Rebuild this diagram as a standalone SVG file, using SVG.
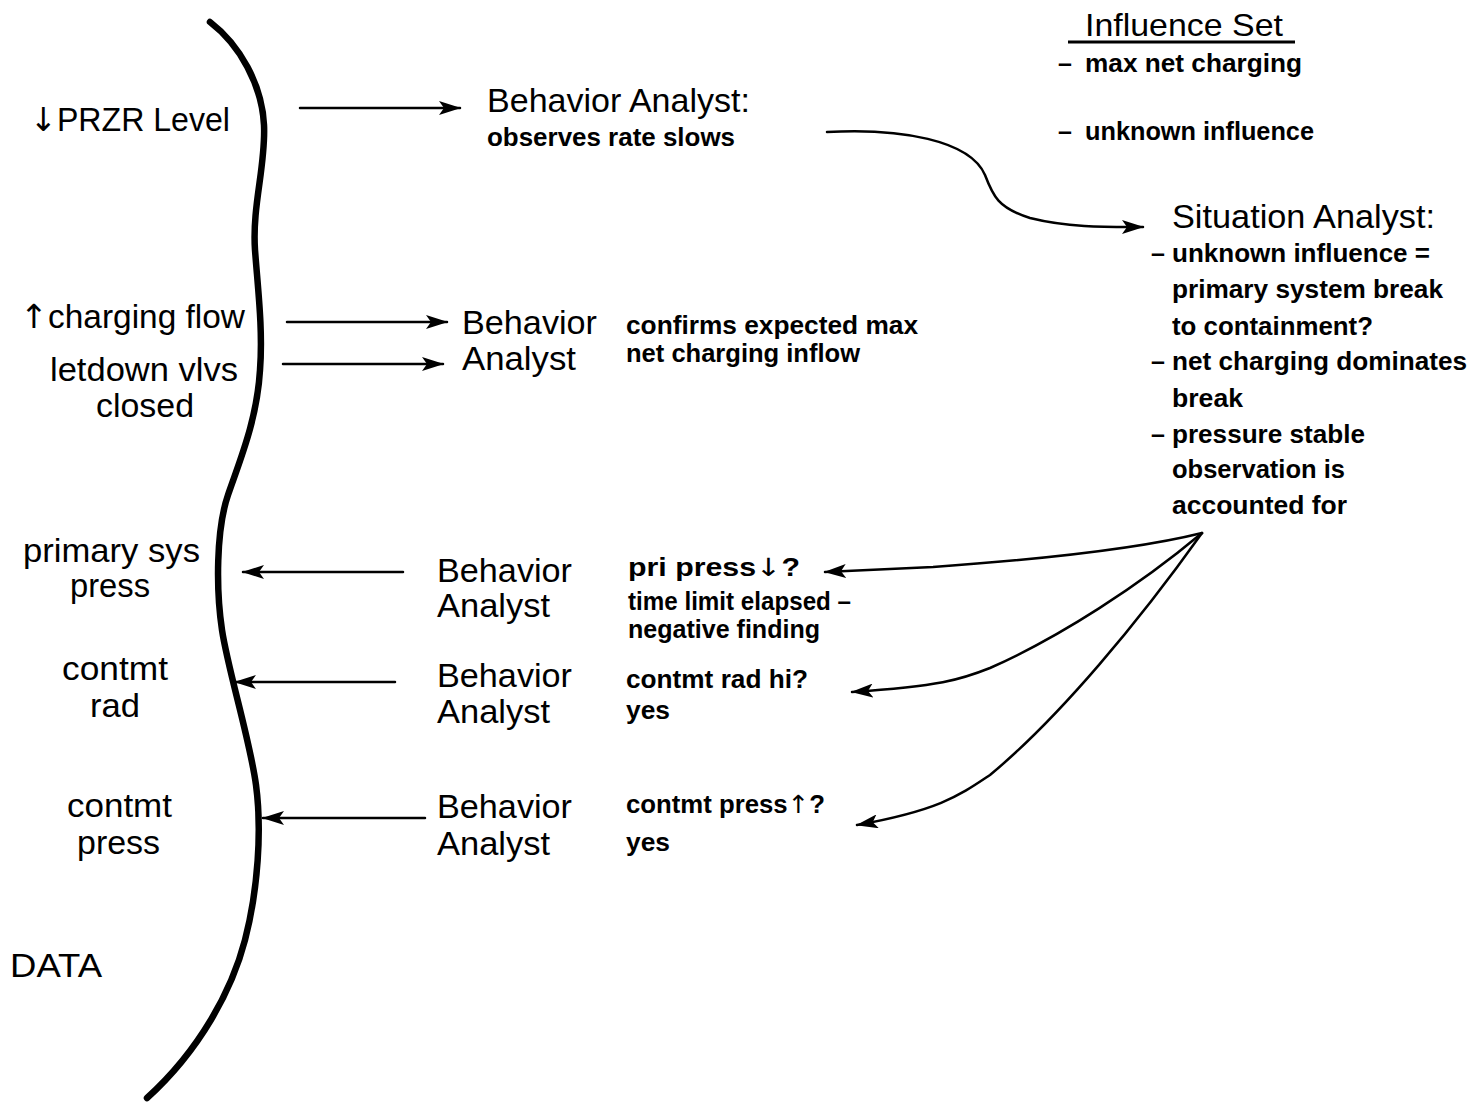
<svg xmlns="http://www.w3.org/2000/svg" width="1474" height="1103" viewBox="0 0 1474 1103">
<style>
text{font-family:"Liberation Sans",Arial,Helvetica,sans-serif;fill:#000}
.big{font-size:33px}
.mid{font-size:32px}
.small{font-size:25px;font-weight:bold}
.arw{font-family:"DejaVu Sans",sans-serif;font-weight:normal}
.ln{fill:none;stroke:#000;stroke-width:2.5;stroke-linecap:round;stroke-linejoin:round}
.data{fill:none;stroke:#000;stroke-width:6.5;stroke-linecap:round;stroke-linejoin:round}
</style>
<defs>
<marker id="ah" viewBox="0 0 22 14" refX="21" refY="7" markerWidth="22" markerHeight="14" markerUnits="userSpaceOnUse" orient="auto">
<path d="M0,0 L22,7 L0,14 L5,7 z" fill="#000"/>
</marker>
</defs>
<rect width="1474" height="1103" fill="#fff"/>

<g id="data-boundary">
<path class="data" d="M210,22 C240,45 262,85 264,125 C266,165 252,205 255,250 C258,290 263,330 260,370 C257,420 240,460 228,495 C216,530 216,590 222,630 C228,670 250,740 256,785 C262,830 258,890 245,940 C232,990 200,1050 147,1098"/>
</g>

<g id="n-przr"><text class="big" x="30" y="131" textLength="200" lengthAdjust="spacingAndGlyphs"><tspan class="arw">↓</tspan>PRZR Level</text></g>
<g id="n-charging"><text class="big" x="20" y="328" textLength="225" lengthAdjust="spacingAndGlyphs"><tspan class="arw">↑</tspan>charging flow</text></g>
<g id="n-letdown">
<text class="big" x="50" y="381" textLength="188" lengthAdjust="spacingAndGlyphs">letdown vlvs</text>
<text class="big" x="96" y="417" textLength="98" lengthAdjust="spacingAndGlyphs">closed</text>
</g>
<g id="n-prisys">
<text class="big" x="23" y="562" textLength="177" lengthAdjust="spacingAndGlyphs">primary sys</text>
<text class="big" x="70" y="597" textLength="80" lengthAdjust="spacingAndGlyphs">press</text>
</g>
<g id="n-contrad">
<text class="big" x="62" y="680" textLength="106" lengthAdjust="spacingAndGlyphs">contmt</text>
<text class="big" x="90" y="717" textLength="50" lengthAdjust="spacingAndGlyphs">rad</text>
</g>
<g id="n-contpress">
<text class="big" x="67" y="817" textLength="105" lengthAdjust="spacingAndGlyphs">contmt</text>
<text class="big" x="77" y="854" textLength="83" lengthAdjust="spacingAndGlyphs">press</text>
</g>
<g id="n-data"><text class="big" x="10" y="977" textLength="92" lengthAdjust="spacingAndGlyphs">DATA</text></g>

<g id="n-ba1">
<text class="big" x="487" y="112" textLength="263" lengthAdjust="spacingAndGlyphs">Behavior Analyst:</text>
<text class="small" x="487" y="146" textLength="248" lengthAdjust="spacingAndGlyphs">observes rate slows</text>
</g>
<g id="n-ba2">
<text class="big" x="462" y="334" textLength="135" lengthAdjust="spacingAndGlyphs">Behavior</text>
<text class="big" x="462" y="370" textLength="114" lengthAdjust="spacingAndGlyphs">Analyst</text>
<text class="small" x="626" y="334" textLength="292" lengthAdjust="spacingAndGlyphs">confirms expected max</text>
<text class="small" x="626" y="362" textLength="234" lengthAdjust="spacingAndGlyphs">net charging inflow</text>
</g>
<g id="n-ba3">
<text class="big" x="437" y="582" textLength="135" lengthAdjust="spacingAndGlyphs">Behavior</text>
<text class="big" x="437" y="617" textLength="113" lengthAdjust="spacingAndGlyphs">Analyst</text>
<text class="small" x="628" y="576" textLength="172" lengthAdjust="spacingAndGlyphs">pri press<tspan class="arw">↓</tspan>?</text>
<text class="small" x="628" y="610" textLength="223" lengthAdjust="spacingAndGlyphs">time limit elapsed –</text>
<text class="small" x="628" y="638" textLength="192" lengthAdjust="spacingAndGlyphs">negative finding</text>
</g>
<g id="n-ba4">
<text class="big" x="437" y="687" textLength="135" lengthAdjust="spacingAndGlyphs">Behavior</text>
<text class="big" x="437" y="723" textLength="113" lengthAdjust="spacingAndGlyphs">Analyst</text>
<text class="small" x="626" y="688" textLength="182" lengthAdjust="spacingAndGlyphs">contmt rad hi?</text>
<text class="small" x="626" y="719" textLength="44" lengthAdjust="spacingAndGlyphs">yes</text>
</g>
<g id="n-ba5">
<text class="big" x="437" y="818" textLength="135" lengthAdjust="spacingAndGlyphs">Behavior</text>
<text class="big" x="437" y="855" textLength="113" lengthAdjust="spacingAndGlyphs">Analyst</text>
<text class="small" x="626" y="813" textLength="199" lengthAdjust="spacingAndGlyphs">contmt press<tspan class="arw">↑</tspan>?</text>
<text class="small" x="626" y="851" textLength="44" lengthAdjust="spacingAndGlyphs">yes</text>
</g>

<g id="n-influence">
<text class="mid" x="1085" y="36" textLength="198" lengthAdjust="spacingAndGlyphs">Influence Set</text>
<line x1="1068" y1="42" x2="1295" y2="42" stroke="#000" stroke-width="3"/>
<text class="small" x="1058" y="72">–</text>
<text class="small" x="1085" y="72" textLength="217" lengthAdjust="spacingAndGlyphs">max net charging</text>
<text class="small" x="1058" y="140">–</text>
<text class="small" x="1085" y="140" textLength="229" lengthAdjust="spacingAndGlyphs">unknown influence</text>
</g>

<g id="n-sa">
<text class="big" x="1172" y="228" textLength="263" lengthAdjust="spacingAndGlyphs">Situation Analyst:</text>
<text class="small" x="1151" y="262">–</text>
<text class="small" x="1172" y="262" textLength="258" lengthAdjust="spacingAndGlyphs">unknown influence =</text>
<text class="small" x="1172" y="298" textLength="271" lengthAdjust="spacingAndGlyphs">primary system break</text>
<text class="small" x="1172" y="335" textLength="201" lengthAdjust="spacingAndGlyphs">to containment?</text>
<text class="small" x="1151" y="370">–</text>
<text class="small" x="1172" y="370" textLength="295" lengthAdjust="spacingAndGlyphs">net charging dominates</text>
<text class="small" x="1172" y="407" textLength="71" lengthAdjust="spacingAndGlyphs">break</text>
<text class="small" x="1151" y="443">–</text>
<text class="small" x="1172" y="443" textLength="193" lengthAdjust="spacingAndGlyphs">pressure stable</text>
<text class="small" x="1172" y="478" textLength="173" lengthAdjust="spacingAndGlyphs">observation is</text>
<text class="small" x="1172" y="514" textLength="175" lengthAdjust="spacingAndGlyphs">accounted for</text>
</g>

<g id="connectors">
<line class="ln" x1="300" y1="108" x2="460" y2="108" marker-end="url(#ah)"/>
<line class="ln" x1="287" y1="322" x2="447" y2="322" marker-end="url(#ah)"/>
<line class="ln" x1="283" y1="364" x2="443" y2="364" marker-end="url(#ah)"/>
<line class="ln" x1="403" y1="572" x2="243" y2="572" marker-end="url(#ah)"/>
<line class="ln" x1="395" y1="682" x2="235" y2="682" marker-end="url(#ah)"/>
<line class="ln" x1="425" y1="818" x2="263" y2="818" marker-end="url(#ah)"/>
<path class="ln" d="M827,132 C900,128 970,140 985,175 C993,196 998,208 1030,218 C1070,228 1110,227 1143,227" marker-end="url(#ah)"/>
<path class="ln" d="M1202,533 C1150,546 1060,558 933,567 L825,572" marker-end="url(#ah)"/>
<path class="ln" d="M1202,533 C1140,585 1060,637 990,668 C960,680 940,686 852,692" marker-end="url(#ah)"/>
<path class="ln" d="M1202,533 C1140,620 1060,717 990,775 C960,795 940,810 857,825" marker-end="url(#ah)"/>
</g>
</svg>
